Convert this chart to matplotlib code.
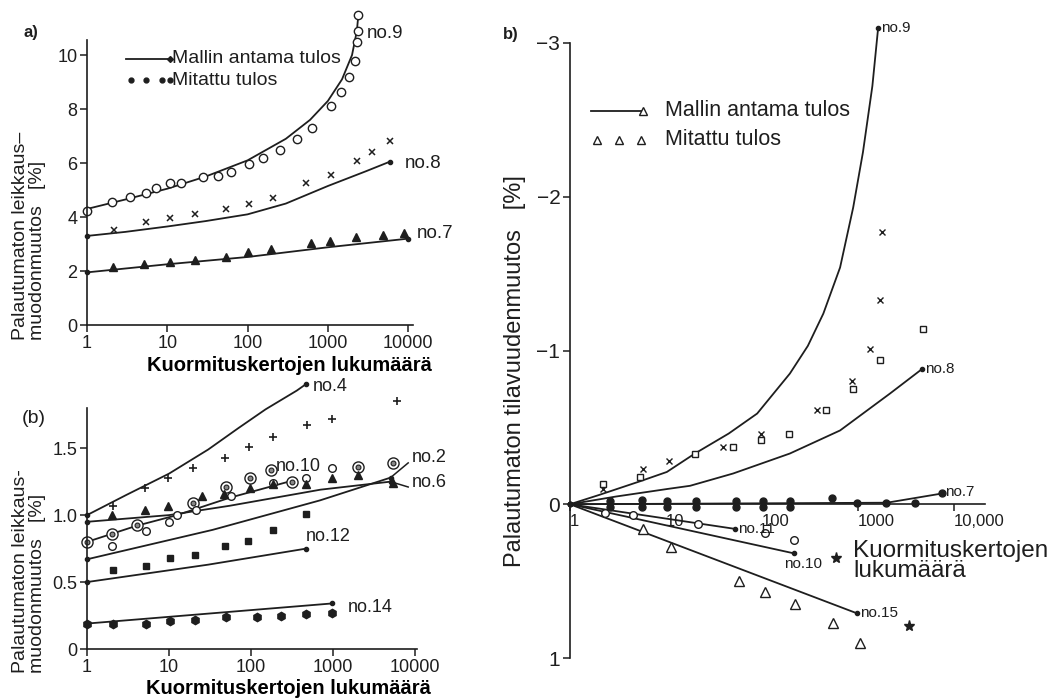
import numpy as np
import matplotlib.pyplot as plt

plt.rcParams['font.family'] = ['Liberation Sans', 'DejaVu Sans']
ink = '#1e1e1e'
plt.rcParams['text.color'] = ink
plt.rcParams['axes.edgecolor'] = ink
plt.rcParams['xtick.color'] = ink
plt.rcParams['ytick.color'] = ink

# ---------------- a) leikkausmuodonmuutos, kokeet 7-9 ----------------
n9_mx = [1, 2.07, 3.4, 5.4, 7.3, 10.7, 15, 28, 43, 63, 104, 155, 257, 414, 633, 1090, 1450, 1820, 2190, 2340, 2350, 2350]
n9_my = [4.23, 4.57, 4.73, 4.9, 5.09, 5.25, 5.28, 5.5, 5.53, 5.68, 5.95, 6.2, 6.5, 6.88, 7.3, 8.1, 8.64, 9.2, 9.8, 10.5, 10.9, 11.5]
n9_cx = [1, 3, 10, 30, 100, 300, 600, 1000, 1500, 2000, 2300, 2400]
n9_cy = [4.3, 4.65, 5.05, 5.5, 6.1, 6.9, 7.6, 8.3, 9.1, 10.0, 10.9, 11.5]

n8_mx = [2.2, 5.4, 10.7, 22, 54, 104, 206, 540, 1090, 2340, 3540, 5920]
n8_my = [3.52, 3.83, 3.95, 4.1, 4.3, 4.48, 4.72, 5.27, 5.56, 6.09, 6.42, 6.81]
n8_cx = [1, 3, 10, 30, 100, 300, 1000, 3000, 5900]
n8_cy = [3.3, 3.45, 3.65, 3.85, 4.1, 4.5, 5.15, 5.7, 6.05]

n7_mx = [2.1, 5.2, 10.7, 22, 54, 100, 196, 620, 1070, 2250, 4800, 9000]
n7_my = [2.16, 2.25, 2.32, 2.41, 2.53, 2.7, 2.8, 3.02, 3.12, 3.25, 3.33, 3.4]
n7_cx = [1, 10, 100, 1000, 10000]
n7_cy = [1.95, 2.25, 2.52, 2.88, 3.2]

# ---------------- (b) kokeet 2, 4, 6, 10, 12, 14 ----------------
n4_mx = [2.1, 5.1, 9.7, 19.6, 48, 94, 185, 480, 960, 6000]
n4_my = [1.07, 1.2, 1.28, 1.35, 1.43, 1.51, 1.58, 1.67, 1.72, 1.85]
n4_cx = [1, 3, 10, 30, 70, 150, 360, 470]
n4_cy = [1.0, 1.15, 1.31, 1.49, 1.65, 1.79, 1.93, 1.98]

n10_mx = [1, 2, 4.1, 19.6, 49.5, 97, 175, 318, 2000, 5400]
n10_my = [0.8, 0.86, 0.925, 1.09, 1.21, 1.28, 1.34, 1.25, 1.36, 1.39]
n10_cx = [1, 4, 12.5, 55, 330]
n10_cy = [0.8, 0.92, 1.0, 1.13, 1.26]

n2_mx = [2, 5.2, 10, 12.5, 21, 57, 185, 470, 960]
n2_my = [0.77, 0.88, 0.95, 1.0, 1.04, 1.14, 1.24, 1.28, 1.35]
n2_cx = [1, 34, 690, 5000]
n2_cy = [0.67, 0.89, 1.11, 1.28]

n6_mx = [2.0, 5.1, 9.7, 25, 47, 97, 185, 470, 960, 2000, 5400]
n6_my = [1.0, 1.04, 1.07, 1.14, 1.16, 1.2, 1.23, 1.23, 1.28, 1.3, 1.24]
n6_cx = [1, 10, 55, 700, 5000]
n6_cy = [0.95, 1.0, 1.07, 1.19, 1.25]

n12_mx = [2.1, 5.2, 10.3, 20.7, 48, 92, 184, 468]
n12_my = [0.59, 0.62, 0.68, 0.7, 0.77, 0.81, 0.89, 1.01]
n12_cx = [1, 30, 470]
n12_cy = [0.5, 0.63, 0.75]

n14_mx = [1, 2.1, 5.2, 10.3, 20.7, 50, 117, 230, 468, 960]
n14_my = [0.19, 0.19, 0.19, 0.21, 0.22, 0.24, 0.24, 0.25, 0.26, 0.27]
n14_cx = [1, 960]
n14_cy = [0.19, 0.34]

# ---------------- b) tilavuudenmuutos ----------------
v9_mx = [2.2, 5.7, 10.8, 39, 98, 375, 870, 1330, 1700, 1770]
v9_my = [-0.1, -0.23, -0.28, -0.37, -0.46, -0.61, -0.8, -1.01, -1.33, -1.77]
v9_cx = [1, 2, 5.4, 10.2, 20, 45, 89, 195, 300, 435, 650, 890, 1125, 1410, 1620]
v9_cy = [0, -0.06, -0.15, -0.21, -0.33, -0.46, -0.59, -0.85, -1.03, -1.24, -1.54, -1.93, -2.29, -2.72, -3.1]

v8_mx = [2.2, 5.3, 20, 50, 98, 190, 465, 890, 1700, 4700]
v8_my = [-0.13, -0.18, -0.33, -0.37, -0.42, -0.46, -0.61, -0.75, -0.94, -1.14]
v8_cx = [1, 3, 10.5, 17.8, 50, 195, 650, 2150, 4650]
v8_cy = [0, -0.05, -0.1, -0.12, -0.2, -0.33, -0.48, -0.72, -0.88]

v7_mx = [2.6, 5.6, 10.2, 20.5, 53, 102, 195, 535, 980, 1970, 3900, 7500]
v7_my = [-0.02, -0.03, -0.02, -0.02, -0.02, -0.02, -0.02, -0.04, -0.01, -0.01, -0.01, -0.07]
v7_cx = [1, 2000, 7500]
v7_cy = [0, -0.01, -0.07]

v11_mx = [4.5, 21.7, 108]
v11_my = [0.07, 0.13, 0.19]
v11_cx = [1, 52]
v11_cy = [0, 0.16]

v10_mx = [2.3, 217]
v10_my = [0.06, 0.23]
v10_cx = [1, 217]
v10_cy = [0, 0.32]

v15_mx = [5.7, 11.3, 57, 108, 220, 545, 1040]
v15_my = [0.16, 0.28, 0.5, 0.57, 0.65, 0.77, 0.9]
v15_cx = [1, 980]
v15_cy = [0, 0.71]

stars_x = [590, 3400]
stars_y = [0.35, 0.79]

lw = 1.3
fig = plt.figure(figsize=(10.6, 7), dpi=100)


def frame(ax):
    ax.set_xscale('log')
    ax.spines['top'].set_visible(False)
    ax.spines['right'].set_visible(False)
    ax.spines['left'].set_linewidth(1.2)
    ax.spines['bottom'].set_linewidth(1.2)
    ax.minorticks_off()
    ax.tick_params(direction='out', length=5, width=1.1, labelsize=13, pad=2)
    ax.patch.set_alpha(0)


def model(ax, x, y, **kw):
    ax.plot(x, y, '-', color=ink, lw=lw, clip_on=False, **kw)
    ax.plot([x[0], x[-1]], [y[0], y[-1]], 'o', color=ink, ms=3, clip_on=False)


# ---- a) ----
ax1 = fig.add_axes([87 / 1060, 1 - 325 / 700, 326 / 1060, 285 / 700])
frame(ax1)
ax1.set_xlim(1, 11500)
ax1.set_ylim(0, 10.56)
ax1.set_xticks([1, 10, 100, 1000, 10000], ['1', '10', '100', '1000', '10000'])
ax1.set_yticks([0, 2, 4, 6, 8, 10])
model(ax1, n9_cx, n9_cy)
model(ax1, n8_cx, n8_cy)
model(ax1, n7_cx, n7_cy)
ax1.plot(n9_mx, n9_my, 'o', mfc='white', mec=ink, ms=6, mew=1.0, clip_on=False)
ax1.plot(n8_mx, n8_my, 'x', color=ink, ms=5, mew=1.1, clip_on=False)
ax1.plot(n7_mx, n7_my, '^', color=ink, ms=6, clip_on=False)
ax1.text(3100, 10.8, 'no.9', fontsize=13.5, va='center')
ax1.text(9000, 6.0, 'no.8', fontsize=13.5, va='center')
ax1.text(13000, 3.4, 'no.7', fontsize=13.5, va='center')

ax1.plot([0.12, 0.255], [0.935, 0.935], '-', color=ink, lw=lw, transform=ax1.transAxes, clip_on=False)
ax1.plot([0.255], [0.935], 'D', color=ink, ms=3, transform=ax1.transAxes, clip_on=False)
ax1.plot([0.135, 0.18, 0.23, 0.255], [0.858] * 4, 'o', color=ink, ms=3.5, transform=ax1.transAxes, clip_on=False)
ax1.text(0.262, 0.935, 'Mallin antama tulos', transform=ax1.transAxes, fontsize=14, va='center')
ax1.text(0.262, 0.858, 'Mitattu tulos', transform=ax1.transAxes, fontsize=14, va='center')
ax1.set_xlabel('Kuormituskertojen lukumäärä', fontsize=14.5, fontweight='bold')
ax1.xaxis.set_label_coords(0.62, -0.108)
fig.text(23 / 1060, 1 - 33 / 700, 'a)', fontsize=12, fontweight='bold', va='center')
fig.text(12 / 1060, 1 - 340 / 700, 'Palautumaton leikkaus–\nmuodonmuutos   [%]', rotation=90,
         fontsize=14, va='bottom', ha='left', multialignment='left', linespacing=1.0)

# ---- (b) ----
ax2 = fig.add_axes([87 / 1060, 1 - 649 / 700, 330 / 1060, 241 / 700])
frame(ax2)
ax2.set_xlim(1, 10500)
ax2.set_ylim(0, 1.8)
ax2.set_xticks([1, 10, 100, 1000, 10000], ['1', '10', '100', '1000', '10000'])
ax2.set_yticks([0, 0.5, 1.0, 1.5], ['0', '0.5', '1.0', '1.5'])
for cx, cy in [(n4_cx, n4_cy), (n10_cx, n10_cy), (n2_cx, n2_cy), (n6_cx, n6_cy), (n12_cx, n12_cy), (n14_cx, n14_cy)]:
    model(ax2, cx, cy)
ax2.plot(n4_mx, n4_my, '+', color=ink, ms=6, mew=1.2, clip_on=False)
ax2.plot(n10_mx, n10_my, 'o', mfc='white', mec=ink, ms=8, mew=1.0, clip_on=False)
ax2.plot(n10_mx, n10_my, 'o', mfc='#888888', mec=ink, ms=3.5, mew=0.8, clip_on=False)
ax2.plot(n2_mx, n2_my, 'o', mfc='white', mec=ink, ms=5.5, mew=1.0, clip_on=False)
ax2.plot(n6_mx, n6_my, '^', color=ink, ms=6, clip_on=False)
ax2.plot(n12_mx, n12_my, 's', color=ink, ms=4.5, clip_on=False)
ax2.plot(n14_mx, n14_my, 'h', color=ink, ms=6, clip_on=False)
# viittausviivat merkintöihin no.2 ja no.6
ax2.plot([n2_cx[-1], 8200], [n2_cy[-1], 1.39], '-', color=ink, lw=1.1, clip_on=False)
ax2.plot([n6_cx[-1], 8200], [n6_cy[-1], 1.21], '-', color=ink, lw=1.1, clip_on=False)
ax2.text(560, 1.96, 'no.4', fontsize=13, va='center')
ax2.text(200, 1.36, 'no.10', fontsize=13, va='center')
ax2.text(9000, 1.43, 'no.2', fontsize=13, va='center')
ax2.text(9000, 1.24, 'no.6', fontsize=13, va='center')
ax2.text(470, 0.84, 'no.12', fontsize=13, va='center')
ax2.text(1500, 0.31, 'no.14', fontsize=13, va='center')
ax2.set_xlabel('Kuormituskertojen lukumäärä', fontsize=14.5, fontweight='bold')
ax2.xaxis.set_label_coords(0.61, -0.125)
fig.text(22 / 1060, 1 - 418 / 700, '(b)', fontsize=14, va='center')
fig.text(12 / 1060, 1 - 673 / 700, 'Palautumaton leikkaus-\nmuodonmuutos   [%]', rotation=90,
         fontsize=14, va='bottom', ha='left', multialignment='left', linespacing=1.0)

# ---- b) tilavuudenmuutos ----
ax3 = fig.add_axes([570 / 1060, 1 - 658 / 700, 415 / 1060, 615 / 700])
frame(ax3)
ax3.set_xlim(1, 21000)
ax3.set_ylim(1, -3)
ax3.spines['bottom'].set_position(('data', 0))
ax3.set_xticks([1, 10, 100, 1000, 10000], ['1', '10', '100', '1000', '10,000'])
for t in ax3.get_xticklabels():
    t.set_ha('left')
    t.set_fontsize(12)
ax3.set_yticks([-3, -2, -1, 0, 1], ['−3', '−2', '−1', '0', '1'])
ax3.tick_params(axis='y', labelsize=15)

model(ax3, v9_cx, v9_cy)
model(ax3, v8_cx, v8_cy)
model(ax3, v7_cx, v7_cy)
model(ax3, v11_cx, v11_cy)
model(ax3, v10_cx, v10_cy)
model(ax3, v15_cx, v15_cy)
ax3.plot(v9_mx, v9_my, 'x', color=ink, ms=5, mew=1.0, clip_on=False)
ax3.plot(v8_mx, v8_my, 's', mfc='white', mec=ink, ms=5, mew=1.0, clip_on=False)
ax3.plot(v7_mx, v7_my, 'o', color=ink, ms=5, clip_on=False)
ax3.plot(v7_mx[:7], [0.02] * 7, 'o', color=ink, ms=5, clip_on=False)
ax3.plot(v11_mx, v11_my, 'o', mfc='white', mec=ink, ms=5.5, mew=1.0)
ax3.plot(v10_mx, v10_my, 'o', mfc='white', mec=ink, ms=5.5, mew=1.0)
ax3.plot(v15_mx, v15_my, '^', mfc='white', mec=ink, ms=7, mew=1.0)
ax3.plot(stars_x, stars_y, '*', color=ink, ms=8)
ax3.text(1750, -3.1, 'no.9', fontsize=11, va='center')
ax3.text(5000, -0.88, 'no.8', fontsize=11, va='center')
ax3.text(8000, -0.08, 'no.7', fontsize=11, va='center')
ax3.text(56, 0.16, 'no.11', fontsize=11, va='center')
ax3.text(170, 0.39, 'no.10', fontsize=11, va='center')
ax3.text(1050, 0.71, 'no.15', fontsize=11, va='center')
ax3.text(890, 0.37, 'Kuormituskertojen\nlukumäärä', fontsize=17.5, va='center', linespacing=0.9)

ax3.plot([0.05, 0.175], [0.89, 0.89], '-', color=ink, lw=lw, transform=ax3.transAxes, clip_on=False)
ax3.plot([0.175], [0.89], '^', mfc='white', mec=ink, ms=6, transform=ax3.transAxes, clip_on=False)
ax3.plot([0.065, 0.117, 0.17], [0.843] * 3, '^', mfc='white', mec=ink, ms=6, transform=ax3.transAxes, clip_on=False)
ax3.text(0.228, 0.89, 'Mallin antama tulos', transform=ax3.transAxes, fontsize=15.5, va='center')
ax3.text(0.228, 0.843, 'Mitattu tulos', transform=ax3.transAxes, fontsize=15.5, va='center')
fig.text(503 / 1060, 1 - 35 / 700, 'b)', fontsize=12, fontweight='bold', va='center')
fig.text(504 / 1060, 1 - 567 / 700, 'Palautumaton tilavuudenmuutos   [%]', rotation=90,
         fontsize=17, va='bottom', ha='left')

fig.savefig('out.png', dpi=100)
